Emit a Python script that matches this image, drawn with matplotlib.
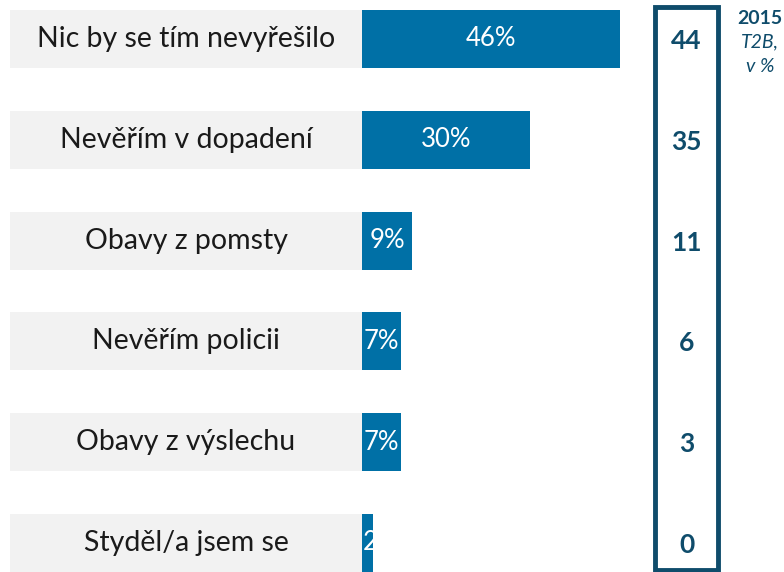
import matplotlib
matplotlib.use("Agg")
import matplotlib.pyplot as plt
from matplotlib.patches import Rectangle

categories = ["Nic by se tím nevyřešilo", "Nevěřím v dopadení", "Obavy z pomsty",
              "Nevěřím policii", "Obavy z výslechu", "Styděl/a jsem se"]
values_2019 = [46, 30, 9, 7, 7, 2]
values_2015 = [44, 35, 11, 6, 3, 0]
header_lines = ["2015", "T2B,", "v %"]

W, H = 784, 572
px_per_unit = 5.6
x0_px = 362
fig = plt.figure(figsize=(W / 100, H / 100), dpi=100)
ax = fig.add_axes([0, 0, 1, 1])
ax.set_xlim(-x0_px / px_per_unit, (W - x0_px) / px_per_unit)
row_px = 100.8
top_px = 39
ax.set_ylim((H - top_px) / row_px, -top_px / row_px)
ax.axis("off")

blue = "#0070A6"
navy = "#0F4C6B"
gray = "#F2F2F2"
font = "Lato"

ys = list(range(len(categories)))
gray_left = -(x0_px - 10) / px_per_unit
ax.barh(ys, [-gray_left] * len(ys), left=gray_left, height=58 / row_px, color=gray, zorder=1)
bars = ax.barh(ys, values_2019, height=58 / row_px, color=blue, zorder=2)

label_center = (gray_left + 0) / 2
for y, cat, v, b in zip(ys, categories, values_2019, bars):
    ax.text(label_center, y, cat, ha="center", va="center", fontsize=20.5,
            family=font, color="#1A1A1A", zorder=3)
    if v >= 5:
        t = ax.text(v / 2, y, f"{v}%", ha="center", va="center", fontsize=18.5,
                    family=font, color="white", zorder=3)
    else:
        t = ax.text(0.2, y, f"{v}%", ha="left", va="center", fontsize=18.5,
                    family=font, color="white", zorder=3)
    t.set_clip_path(b)

# 2015 box
box_left = (655 - x0_px) / px_per_unit
box_w = 63 / px_per_unit
ax.add_patch(Rectangle((box_left, (7 - top_px) / row_px), box_w,
                       (570 - 7) / row_px, fill=False, edgecolor=navy, lw=3.5, zorder=4))
bx_c = box_left + box_w / 2
for y, v in zip(ys, values_2015):
    ax.text(bx_c, y + 0.02, f"{v}", ha="center", va="center", fontsize=19,
            family=font, fontweight="bold", color=navy, zorder=5)

hx = (760 - x0_px) / px_per_unit
for i, line in enumerate(header_lines):
    ax.text(hx, (18 + 24 * i - top_px) / row_px, line, ha="center", va="center",
            fontsize=14, family=font, color=navy,
            fontweight="bold" if i == 0 else "normal",
            fontstyle="normal" if i == 0 else "italic", zorder=5)

fig.savefig("out.png", dpi=100)
